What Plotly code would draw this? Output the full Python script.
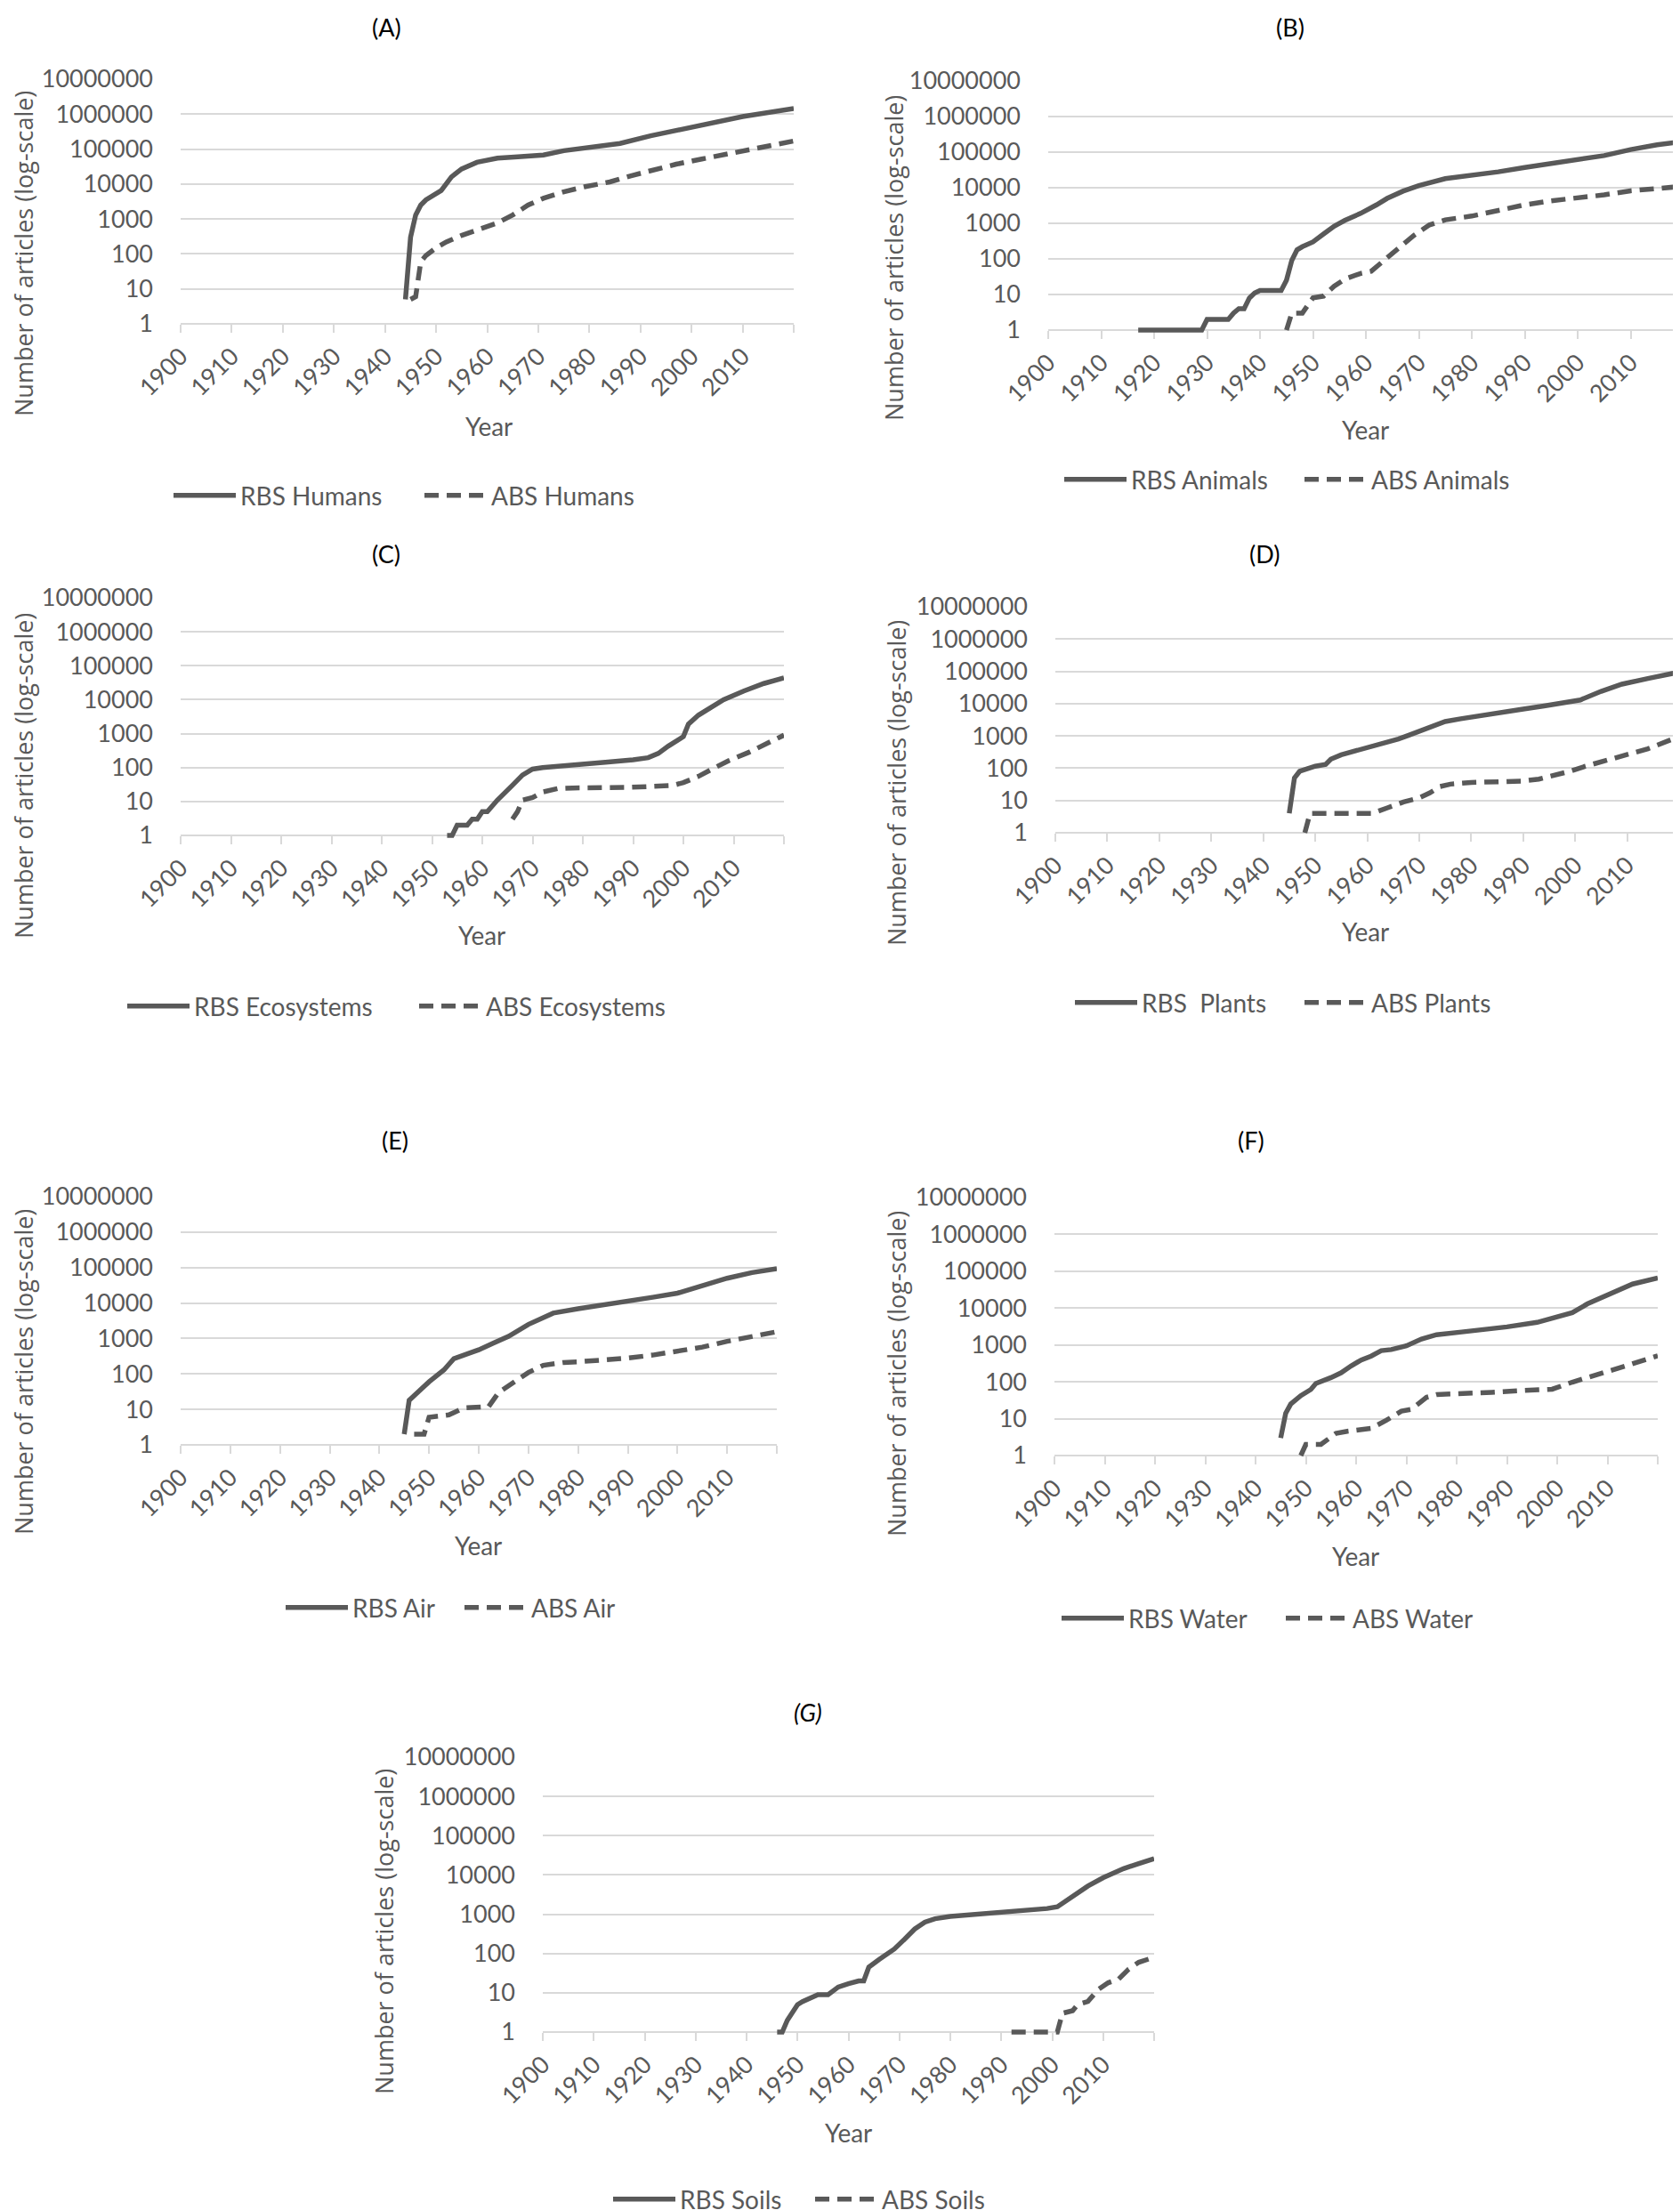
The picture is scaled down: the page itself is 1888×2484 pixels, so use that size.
import plotly.graph_objects as go

# ---- data (year, number of articles) ----
humans_rbs_years = [1944, 1945, 1946, 1947, 1948, 1950, 1951, 1953, 1955, 1958, 1962, 1966, 1971, 1975, 1980, 1986, 1992, 2000, 2010, 2020]
humans_rbs = [5, 300, 1300, 2500, 3500, 5000, 6500, 16000, 27000, 42000, 55000, 60000, 68000, 90000, 115000, 145000, 240000, 420000, 850000, 1450000]
humans_abs_years = [1945, 1946, 1947, 1948, 1950, 1952, 1955, 1958, 1962, 1965, 1968, 1971, 1975, 1979, 1984, 1988, 1992, 1997, 2002, 2008, 2013, 2020]
humans_abs = [5, 6, 60, 90, 150, 220, 340, 500, 770, 1300, 2500, 3900, 6000, 8300, 11500, 17000, 24000, 37000, 52000, 76000, 112000, 170000]

animals_rbs_years = [1917, 1929, 1930, 1934, 1935, 1936, 1937, 1938, 1939, 1940, 1944, 1945, 1946, 1947, 1948, 1950, 1952, 1954, 1956, 1959, 1962, 1964, 1967, 1970, 1975, 1980, 1985, 1990, 1995, 2000, 2005, 2010, 2015, 2020]
animals_rbs = [1, 1, 2, 2, 3, 4, 4, 8, 11, 13, 13, 25, 90, 180, 220, 300, 500, 830, 1200, 1900, 3300, 5000, 8000, 11500, 18000, 22000, 28000, 37000, 48000, 59000, 80000, 118000, 160000, 200000]
animals_abs_years = [1945, 1946, 1948, 1950, 1952, 1954, 1956, 1959, 1961, 1963, 1966, 1969, 1972, 1975, 1980, 1985, 1990, 1995, 2000, 2005, 2010, 2020]
animals_abs = [1, 3, 3, 8, 9, 17, 27, 39, 45, 80, 200, 450, 900, 1250, 1600, 2300, 3300, 4300, 5100, 6300, 8200, 11000]

eco_rbs_years = [1953, 1954, 1955, 1957, 1958, 1959, 1960, 1961, 1963, 1964, 1966, 1968, 1970, 1972, 1976, 1981, 1985, 1990, 1993, 1995, 1997, 2000, 2001, 2003, 2006, 2008, 2012, 2016, 2020]
eco_rbs = [1, 1, 2, 2, 3, 3, 5, 5, 11, 15, 30, 60, 90, 100, 115, 130, 145, 170, 195, 260, 430, 820, 1900, 3500, 6500, 10000, 18000, 30000, 44000]
eco_abs_years = [1966, 1967, 1968, 1970, 1972, 1975, 1978, 1983, 1989, 1994, 1998, 2000, 2003, 2006, 2009, 2013, 2016, 2020]
eco_abs = [3, 5, 11, 13, 19, 24, 25, 25, 26, 28, 30, 36, 55, 95, 160, 280, 450, 900]

plants_rbs_years = [1945, 1946, 1947, 1949, 1950, 1952, 1953, 1955, 1957, 1960, 1963, 1966, 1968, 1971, 1973, 1975, 1978, 1982, 1986, 1990, 1994, 1999, 2001, 2005, 2009, 2014, 2020]
plants_rbs = [4, 50, 80, 100, 115, 130, 190, 260, 320, 420, 550, 800, 1050, 1600, 2200, 2800, 3400, 4400, 5400, 6800, 8500, 11000, 13000, 24000, 40000, 60000, 95000]
plants_abs_years = [1948, 1949, 1960, 1961, 1964, 1967, 1970, 1972, 1974, 1976, 1980, 1985, 1990, 1993, 1996, 1999, 2002, 2006, 2010, 2014, 2020]
plants_abs = [1, 4, 4, 4, 6, 9, 12, 17, 27, 32, 36, 39, 40, 46, 58, 80, 115, 170, 260, 400, 950]

air_rbs_years = [1945, 1946, 1948, 1950, 1953, 1955, 1958, 1960, 1963, 1966, 1970, 1973, 1975, 1980, 1984, 1989, 1995, 2000, 2006, 2010, 2015, 2020]
air_rbs = [2, 18, 33, 60, 130, 270, 380, 480, 750, 1150, 2500, 4000, 5200, 6900, 8300, 10500, 14500, 19000, 33000, 50000, 72000, 93000]
air_abs_years = [1947, 1949, 1950, 1954, 1957, 1962, 1964, 1967, 1970, 1973, 1977, 1980, 1984, 1990, 1995, 2000, 2005, 2010, 2015, 2020]
air_abs = [2, 2, 6, 7, 11, 12, 30, 58, 110, 175, 210, 220, 240, 280, 340, 430, 570, 830, 1100, 1550]

water_rbs_years = [1945, 1946, 1947, 1949, 1951, 1952, 1955, 1957, 1959, 1961, 1963, 1965, 1967, 1970, 1973, 1976, 1981, 1985, 1990, 1996, 2000, 2003, 2006, 2011, 2015, 2020]
water_rbs = [3, 14, 25, 42, 62, 90, 130, 175, 270, 390, 500, 700, 750, 950, 1450, 1900, 2250, 2550, 3100, 4100, 5600, 7500, 13000, 25000, 45000, 66000]
water_abs_years = [1949, 1950, 1953, 1955, 1956, 1958, 1960, 1963, 1966, 1969, 1971, 1974, 1976, 1982, 1987, 1993, 1999, 2003, 2009, 2014, 2020]
water_abs = [1, 2, 2, 3, 4, 4.5, 5, 5.5, 9, 16, 18, 38, 45, 47, 52, 58, 63, 98, 170, 280, 510]

soils_rbs_years = [1946, 1947, 1948, 1950, 1951, 1953, 1954, 1956, 1958, 1960, 1962, 1963, 1964, 1966, 1969, 1971, 1973, 1975, 1977, 1980, 1985, 1990, 1995, 1999, 2001, 2004, 2007, 2010, 2014, 2017, 2020]
soils_rbs = [1, 1, 2, 5, 6, 8, 9, 9, 14, 17, 20, 20, 45, 70, 130, 230, 420, 630, 770, 880, 990, 1100, 1250, 1400, 1550, 2800, 5200, 8500, 14500, 19500, 26000]
soils_abs_years = [1992, 2001, 2002, 2004, 2005, 2007, 2009, 2011, 2013, 2015, 2017, 2020]
soils_abs = [1, 1, 3, 3.5, 5, 6, 12, 18, 22, 40, 60, 80]

tick_years = list(range(1900, 2021, 10))
tick_year_labels = [str(y) for y in tick_years[:-1]] + [""]
y_ticks = [1, 10, 100, 1000, 10000, 100000, 1000000, 10000000]
y_tick_labels = [str(v) for v in y_ticks]

W, H = 1888, 2484
GREY = "#595959"
GRID = "#D9D9D9"
LO = -0.1  # a hair below 1 so lines sitting at 1 are not clipped


def fx(px):
    return px / W


def fy(px):
    return 1 - px / H


# panel: tag, legend names, series, plot box (x0, x1, top, bottom) in px,
# title pos, y-title pos, "Year" pos, legend pos, legend entry width
panels = [
    dict(tag="(A)", names=("RBS Humans", "ABS Humans"),
         rbs=(humans_rbs_years, humans_rbs), abs=(humans_abs_years, humans_abs),
         box=(195, 884, 81, 356), title=(426, 22), ytitle=(18, 277), year=(541, 471), leg=(182, 549), ew=197),
    dict(tag="(B)", names=("RBS Animals", "ABS Animals"),
         rbs=(animals_rbs_years, animals_rbs), abs=(animals_abs_years, animals_abs),
         box=(1170, 1884, 83, 363), title=(1442, 22), ytitle=(996, 282), year=(1526, 475), leg=(1183, 531), ew=185),
    dict(tag="(C)", names=("RBS Ecosystems", "ABS Ecosystems"),
         rbs=(eco_rbs_years, eco_rbs), abs=(eco_abs_years, eco_abs),
         box=(195, 873, 664, 931), title=(426, 614), ytitle=(18, 864), year=(533, 1043), leg=(130, 1123), ew=243),
    dict(tag="(D)", names=("RBS\u00a0 Plants", "ABS Plants"),
         rbs=(plants_rbs_years, plants_rbs), abs=(plants_abs_years, plants_abs),
         box=(1178, 1879, 674, 928), title=(1413, 614), ytitle=(999, 872), year=(1526, 1039), leg=(1195, 1119), ew=173),
    dict(tag="(E)", names=("RBS Air", "ABS Air"),
         rbs=(air_rbs_years, air_rbs), abs=(air_abs_years, air_abs),
         box=(195, 865, 1337, 1616), title=(436, 1274), ytitle=(18, 1534), year=(529, 1729), leg=(308, 1799), ew=116),
    dict(tag="(F)", names=("RBS Water", "ABS Water"),
         rbs=(water_rbs_years, water_rbs), abs=(water_abs_years, water_abs),
         box=(1177, 1855, 1338, 1628), title=(1398, 1274), ytitle=(999, 1536), year=(1515, 1741), leg=(1180, 1811), ew=167),
    dict(tag="<i>(G)</i>", names=("RBS Soils", "ABS Soils"),
         rbs=(soils_rbs_years, soils_rbs), abs=(soils_abs_years, soils_abs),
         box=(602, 1289, 1967, 2276), title=(900, 1916), ytitle=(423, 2163), year=(945, 2389), leg=(676, 2464), ew=142),
]

fig = go.Figure()
layout = dict(
    width=W, height=H,
    margin=dict(l=0, r=0, t=0, b=0, autoexpand=False),
    paper_bgcolor="white", plot_bgcolor="white",
    font=dict(family="Lato, sans-serif", color=GREY),
    annotations=[],
)

for i, p in enumerate(panels, start=1):
    s = "" if i == 1 else str(i)
    leg = "legend" if i == 1 else f"legend{i}"
    x0, x1, top, bot = p["box"]
    dec = (bot - top) / 7.0
    bottom_px = bot - LO * dec

    for key, name, dash in (("rbs", p["names"][0], "solid"), ("abs", p["names"][1], "16px,9px")):
        xs, ys = p[key]
        fig.add_trace(go.Scatter(
            x=xs, y=ys, name=name, mode="lines",
            line=dict(color=GREY, width=5.5, dash=dash),
            xaxis="x" + s, yaxis="y" + s, legend=leg,
            hoverinfo="skip",
        ))

    layout["xaxis" + s] = dict(
        domain=[fx(x0), fx(x1)], anchor="free", position=fy(bot),
        range=[1900, 2020], tickmode="array", tickvals=tick_years, ticktext=tick_year_labels,
        tickangle=-45, ticks="outside", ticklen=9, tickwidth=2, tickcolor=GRID,
        showline=True, linecolor=GRID, linewidth=2, showgrid=False, zeroline=False,
        tickfont=dict(family="Lato, sans-serif", size=27, color=GREY),
        layer="below traces", automargin=False, fixedrange=True,
    )
    layout["yaxis" + s] = dict(
        domain=[fy(bottom_px), fy(top)], anchor="x" + s,
        type="log", range=[LO, 7], tickmode="array", tickvals=y_ticks, ticktext=y_tick_labels,
        showgrid=True, gridcolor=GRID, gridwidth=2, showline=False, zeroline=False,
        ticks="", ticklabelstandoff=30,
        tickfont=dict(family="Lato, sans-serif", size=27, color=GREY),
        layer="below traces", automargin=False, fixedrange=True,
    )
    lx, ly = p["leg"]
    layout[leg] = dict(
        orientation="h", x=fx(lx), y=fy(ly), xanchor="left", yanchor="middle",
        itemwidth=70, entrywidth=p["ew"], entrywidthmode="pixels",
        font=dict(family="Lato, sans-serif", size=28, color=GREY),
        bgcolor="rgba(0,0,0,0)", itemclick=False, itemdoubleclick=False,
    )

    tx, ty = p["title"]
    layout["annotations"].append(dict(
        text=p["tag"], x=fx(tx), y=fy(ty), xref="paper", yref="paper",
        showarrow=False, xanchor="center", yanchor="middle",
        font=dict(family="Lato, sans-serif", size=27, color="#000000"),
    ))
    yx, yy = p["ytitle"]
    layout["annotations"].append(dict(
        text="Number of articles (log-scale)", x=fx(yx), y=fy(yy), xref="paper", yref="paper",
        showarrow=False, xanchor="center", yanchor="middle", textangle=-90,
        font=dict(family="Open Sans, sans-serif", size=27, color=GREY),
    ))
    ax, ay = p["year"]
    layout["annotations"].append(dict(
        text="Year", x=fx(ax), y=fy(ay), xref="paper", yref="paper",
        showarrow=False, xanchor="center", yanchor="middle",
        font=dict(family="Lato, sans-serif", size=28, color=GREY),
    ))

fig.update_layout(**layout)
fig.write_html("out.html")
